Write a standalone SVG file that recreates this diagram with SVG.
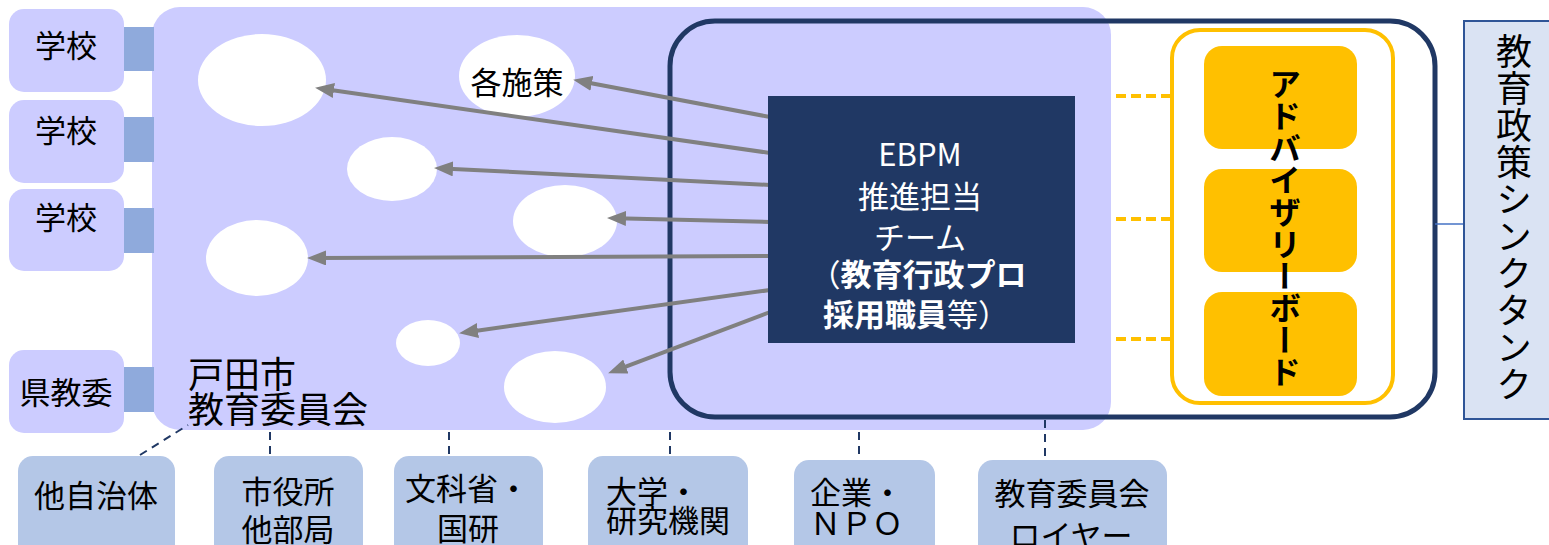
<svg xmlns="http://www.w3.org/2000/svg" width="1549" height="545" viewBox="0 0 1549 545">
<style>
text{font-family:"Noto Sans CJK JP","Noto Sans",sans-serif;fill:#000}
.lav{fill:#CCCCFF}
.conn{fill:#8FAADC}
.circ{fill:#FFFFFF}
.arrow{stroke:#808080;stroke-width:4;fill:none}
.bot{fill:#B4C7E7}
.dash{stroke:#203864;stroke-width:2;stroke-dasharray:8 6;fill:none}
.ydash{stroke:#FFC000;stroke-width:4;stroke-dasharray:10 5;fill:none}
.yel{fill:#FFC000}
.t31{font-size:31px}
.w{fill:#FFFFFF}
</style>
<defs>
<marker id="ah" markerUnits="userSpaceOnUse" markerWidth="19" markerHeight="15" refX="10" refY="7.5" orient="auto">
<path d="M0,0 L19,7.5 L0,15 z" fill="#808080"/>
</marker>
</defs>

<g id="board">
<rect x="152" y="7" width="959" height="423" rx="28" class="lav"/>
<text x="188" y="388" font-size="36">戸田市</text>
<text x="188" y="423" font-size="36">教育委員会</text>
</g>

<g id="schools">
<g id="school1">
<rect x="124" y="27" width="30" height="44" class="conn"/>
<rect x="9" y="9" width="115" height="83" rx="15" class="lav"/>
<text x="66" y="57" text-anchor="middle" class="t31">学校</text>
</g>
<g id="school2">
<rect x="124" y="117" width="30" height="45" class="conn"/>
<rect x="9" y="100" width="115" height="83" rx="15" class="lav"/>
<text x="66" y="142" text-anchor="middle" class="t31">学校</text>
</g>
<g id="school3">
<rect x="124" y="208" width="30" height="45" class="conn"/>
<rect x="9" y="189" width="115" height="82" rx="15" class="lav"/>
<text x="66" y="229" text-anchor="middle" class="t31">学校</text>
</g>
<g id="kenkyoi">
<rect x="124" y="367" width="30" height="45" class="conn"/>
<rect x="9" y="350" width="115" height="83" rx="15" class="lav"/>
<text x="66" y="404" text-anchor="middle" class="t31">県教委</text>
</g>
</g>

<g id="policies">
<ellipse cx="262" cy="80" rx="64" ry="46" class="circ"/>
<g id="kakushisaku">
<ellipse cx="517" cy="76" rx="58" ry="41" class="circ"/>
<text x="517" y="94" text-anchor="middle" class="t31">各施策</text>
</g>
<ellipse cx="392" cy="169" rx="45" ry="32" class="circ"/>
<ellipse cx="565" cy="221" rx="52" ry="36" class="circ"/>
<ellipse cx="257" cy="258" rx="51" ry="38" class="circ"/>
<ellipse cx="428" cy="343" rx="32" ry="23" class="circ"/>
<ellipse cx="555" cy="387" rx="51" ry="36" class="circ"/>
</g>

<g id="thinktank-frame">
<rect x="670" y="21" width="765" height="396" rx="45" fill="none" stroke="#203864" stroke-width="5"/>
</g>

<g id="connectors">
<line x1="770" y1="117" x2="582" y2="81.5" class="arrow" marker-end="url(#ah)"/>
<line x1="770" y1="153" x2="324" y2="89.1" class="arrow" marker-end="url(#ah)"/>
<line x1="770" y1="185" x2="443" y2="168.4" class="arrow" marker-end="url(#ah)"/>
<line x1="770" y1="222" x2="616" y2="218.2" class="arrow" marker-end="url(#ah)"/>
<line x1="770" y1="256" x2="316" y2="258" class="arrow" marker-end="url(#ah)"/>
<line x1="770" y1="290" x2="468" y2="331.9" class="arrow" marker-end="url(#ah)"/>
<line x1="770" y1="312" x2="616.5" y2="370.1" class="arrow" marker-end="url(#ah)"/>
<line x1="1116" y1="96" x2="1204" y2="96" class="ydash"/>
<line x1="1116" y1="219" x2="1204" y2="219" class="ydash"/>
<line x1="1116" y1="339" x2="1204" y2="339" class="ydash"/>
<line x1="1435" y1="224" x2="1464" y2="224" stroke="#4472C4" stroke-width="1.5"/>
<line x1="140" y1="455" x2="188" y2="425" class="dash"/>
<line x1="270" y1="432" x2="270" y2="456" class="dash"/>
<line x1="449" y1="432" x2="449" y2="456" class="dash"/>
<line x1="670" y1="432" x2="670" y2="456" class="dash"/>
<line x1="859" y1="432" x2="859" y2="460" class="dash"/>
<line x1="1045" y1="420" x2="1045" y2="460" class="dash"/>
</g>

<g id="ebpm">
<rect x="768" y="96" width="307" height="247" fill="#203864"/>
<text x="920" y="166" text-anchor="middle" font-size="31" class="w">EBPM</text>
<text x="920" y="208" text-anchor="middle" font-size="31" class="w">推進担当</text>
<text x="920" y="249" text-anchor="middle" font-size="31" class="w">チーム</text>
<text x="918" y="286" text-anchor="middle" font-size="31" class="w">（<tspan font-weight="bold">教育行政プロ</tspan></text>
<text x="916" y="326" text-anchor="middle" font-size="31" class="w"><tspan font-weight="bold">採用職員</tspan>等）</text>
</g>

<g id="advisory">
<rect x="1172" y="30" width="221" height="373" rx="28" fill="#FFFFFF" stroke="#FFC000" stroke-width="4"/>
<rect x="1204" y="46" width="153" height="103" rx="18" class="yel"/>
<rect x="1204" y="169" width="153" height="103" rx="18" class="yel"/>
<rect x="1204" y="292" width="153" height="104" rx="18" class="yel"/>
<text x="1285" y="68" writing-mode="vertical-rl" font-size="32" font-weight="bold">アドバイザリーボード</text>
</g>

<g id="thinktank">
<rect x="1464" y="21" width="100" height="398" fill="#DAE3F3" stroke="#2F5597" stroke-width="2"/>
<text x="1514" y="33" writing-mode="vertical-rl" font-size="36" letter-spacing="1">教育政策シンクタンク</text>
</g>

<g id="partners">
<g id="p1">
<rect x="18" y="456" width="157" height="110" rx="15" class="bot"/>
<text x="96" y="507" text-anchor="middle" class="t31">他自治体</text>
</g>
<g id="p2">
<rect x="214" y="456" width="149" height="110" rx="15" class="bot"/>
<text x="288" y="503" text-anchor="middle" class="t31">市役所</text>
<text x="288" y="541" text-anchor="middle" class="t31">他部局</text>
</g>
<g id="p3">
<rect x="394" y="456" width="149" height="110" rx="15" class="bot"/>
<text x="467" y="500" text-anchor="middle" class="t31">文科省・</text>
<text x="468" y="540" text-anchor="middle" class="t31">国研</text>
</g>
<g id="p4">
<rect x="588" y="456" width="160" height="110" rx="15" class="bot"/>
<text x="606" y="503" class="t31">大学・</text>
<text x="606" y="532" class="t31">研究機関</text>
</g>
<g id="p5">
<rect x="794" y="460" width="141" height="110" rx="15" class="bot"/>
<text x="810" y="504" class="t31">企業・</text>
<text x="810" y="535" class="t31">ＮＰＯ</text>
</g>
<g id="p6">
<rect x="978" y="460" width="189" height="110" rx="15" class="bot"/>
<text x="1072" y="505" text-anchor="middle" class="t31">教育委員会</text>
<text x="1071" y="547" text-anchor="middle" class="t31">ロイヤー</text>
</g>
</g>
</svg>
